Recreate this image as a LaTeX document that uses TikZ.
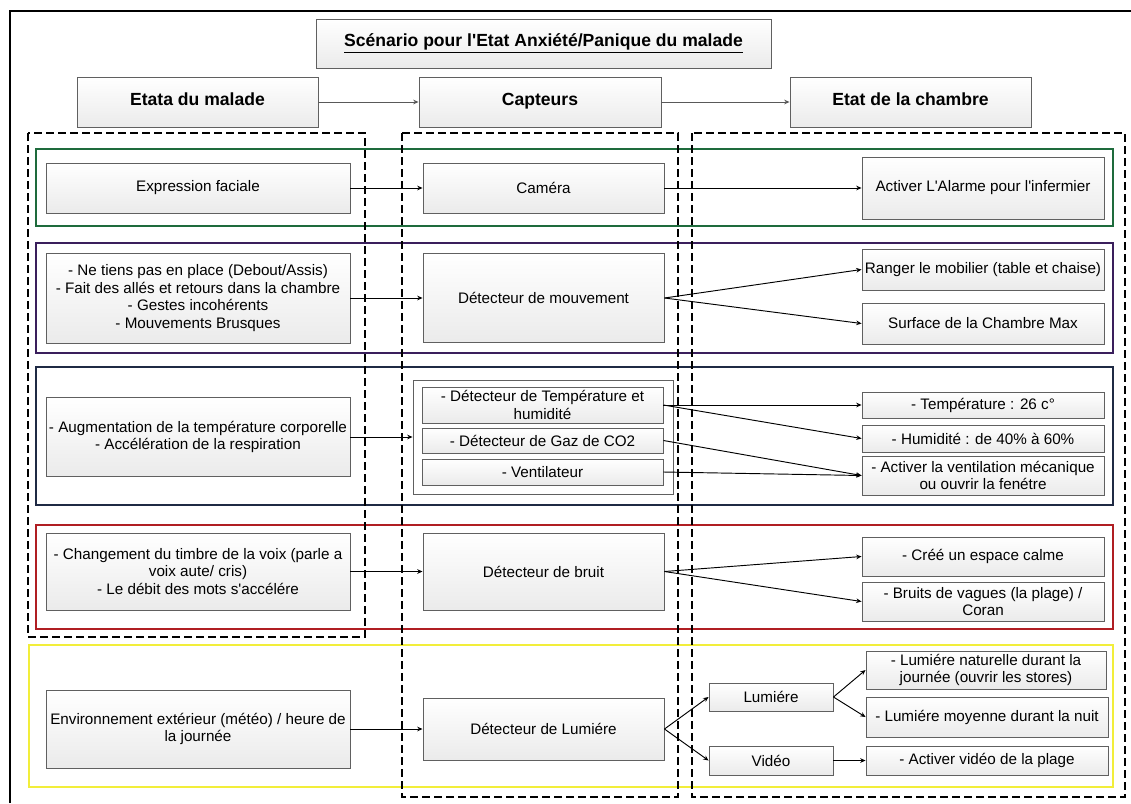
\documentclass[tikz,border=0pt]{standalone}
\usepackage{fontspec}
\setmainfont{Liberation Sans}[Ligatures = TeXOff]
\usetikzlibrary{arrows.meta, shadows}
\tikzset{> = { Stealth[length = 1.6mm, width = 1.4mm] }}

\definecolor{grpgreen}{HTML}{1E6B3C}
\definecolor{grppurple}{HTML}{3A1F5C}
\definecolor{grpnavy}{HTML}{1F2A44}
\definecolor{grpred}{HTML}{B01E23}
\definecolor{grpyellow}{HTML}{F2EE3A}

\tikzset{
	box/.style 2 args = {draw = gray!75!black, line width = 0.8pt, top color = white, bottom color = gray!16,
		drop shadow = {shadow xshift = 0.7pt, shadow yshift = -0.7pt, opacity = 0.3},
		minimum width = #1*0.03cm, minimum height = #2*0.03cm, inner sep = 1pt, align = center,
		font = \fontsize{13}{15}\selectfont},
	headbox/.style 2 args = {box = {#1}{#2}, font = \fontsize{15}{18}\selectfont\bfseries,
		text height = 1.55ex, text depth = 0.45ex},
	grpbox/.style = {line width = 1.6pt},
	dashcol/.style = {line width = 1.4pt, dash pattern = on 2.4mm off 1.2mm},
	link/.style = {->, line width = 0.8pt}
}

\begin{document}
\begin{tikzpicture}[x = 0.03cm, y = -0.03cm]
	\useasboundingbox (0, 0) rectangle (1131, 803);
	\draw [line width = 1.5pt] (10, 803) -- (10, 11) -- (1131, 11);

	% colour bands, one per symptom
	\draw [grpbox, grpgreen] (36, 149) rectangle (1113, 226);
	\draw [grpbox, grppurple] (36, 243) rectangle (1113, 353);
	\draw [grpbox, grpnavy] (36, 367) rectangle (1113, 505);
	\draw [grpbox, grpred] (36, 525) rectangle (1113, 629);
	\draw [grpbox, grpyellow] (29, 645) rectangle (1113, 787);

	\draw [dashcol] (28, 133) rectangle (365, 637);
	\draw [dashcol] (402, 133) rectangle (678, 797);
	\draw [dashcol] (692, 133) rectangle (1125, 797);

	\node [headbox = {455}{49}] (titre) at (543.5, 43.5) {\underline{Scénario pour l'Etat Anxiété/Panique du malade}};
	\node [headbox = {241}{50}] (malade) at (197.5, 102) {Etata du malade};
	\node [headbox = {242}{50}] (capteurs) at (540, 102) {Capteurs};
	\node [headbox = {241}{50}] (chambre) at (910.5, 102) {Etat de la chambre};

	\node [box = {304}{50}] (visage) at (198, 188) {Expression faciale};
	\node [box = {241}{50}] (camera) at (543.5, 188) {Caméra};
	\node [box = {242}{62}] (alarme) at (983, 188) {Activer L'Alarme pour l'infermier};

	\node [box = {304}{90}] (agit) at (198, 298) {- Ne tiens pas en place (Debout/Assis)\\- Fait des allés et retours dans la chambre\\- Gestes incohérents\\- Mouvements Brusques};
	\node [box = {241}{89}] (mouv) at (543.5, 298) {Détecteur de mouvement};
	\node [box = {242}{41}] (ranger) at (983, 269.5) {Ranger le mobilier (table et chaise)};
	\node [box = {242}{41}] (surface) at (983, 323.5) {Surface de la Chambre Max};

	\node [box = {304}{79}] (resp) at (198, 437) {- Augmentation de la température corporelle\\- Accélération de la respiration};
	\node [box = {260}{114}, bottom color = white] (sondes) at (543, 437) {};
	\node [box = {241}{36}] (temp) at (542.5, 405) {- Détecteur de Température et\\humidité};
	\node [box = {241}{25}] (gaz) at (542.5, 440.5) {- Détecteur de Gaz de CO2};
	\node [box = {241}{26}] (venti) at (542.5, 472) {- Ventilateur};
	\node [box = {242}{26}] (tempc) at (983, 405) {- Température : 26 c°};
	\node [box = {242}{27}] (humid) at (983, 438.5) {- Humidité : de 40\% à 60\%};
	\node [box = {242}{39}] (ventil) at (983, 475.5) {- Activer la ventilation mécanique\\ou ouvrir la fenétre};

	\node [box = {304}{77}] (voix) at (198, 571.5) {- Changement du timbre de la voix (parle a\\voix aute/ cris)\\- Le débit des mots s'accélére};
	\node [box = {241}{77}] (bruit) at (543.5, 571.5) {Détecteur de bruit};
	\node [box = {242}{39}] (calme) at (983, 556.5) {- Créé un espace calme};
	\node [box = {242}{39}] (vagues) at (983, 601.5) {- Bruits de vagues (la plage) /\\Coran};

	\node [box = {304}{78}] (env) at (198, 729) {Environnement extérieur (météo) / heure de\\la journée};
	\node [box = {241}{62}] (lumdet) at (543.5, 729) {Détecteur de Lumiére};
	\node [box = {124}{28}] (lum) at (771, 697) {Lumiére};
	\node [box = {124}{29}] (vid) at (771, 760.5) {Vidéo};
	\node [box = {240}{38}] (natur) at (986, 670) {- Lumiére naturelle durant la\\journée (ouvrir les stores)};
	\node [box = {242}{40}] (moyen) at (987, 717) {- Lumiére moyenne durant la nuit};
	\node [box = {242}{29}] (actvid) at (987, 760.5) {- Activer vidéo de la plage};

	\draw [link, gray!70!black] (malade) -- (capteurs);
	\draw [link, gray!70!black] (capteurs) -- (chambre);

	\draw [link] (visage) -- (camera);
	\draw [link] (camera) -- (alarme);

	\draw [link] (agit) -- (mouv);
	\draw [link] (mouv.east) -- (ranger.west);
	\draw [link] (mouv.east) -- (surface.west);

	\draw [link] (resp) -- (sondes);
	\draw [link] (temp.east) -- (tempc.west);
	\draw [link] (temp.east) -- (humid.west);
	\draw [link] (gaz.east) -- (ventil.west);
	\draw [link] (venti.east) -- (ventil.west);

	\draw [link] (voix) -- (bruit);
	\draw [link] (bruit.east) -- (calme.west);
	\draw [link] (bruit.east) -- (vagues.west);

	\draw [link] (env) -- (lumdet);
	\draw [link] (lumdet.east) -- (lum.west);
	\draw [link] (lumdet.east) -- (vid.west);
	\draw [link] (lum.east) -- (natur.west);
	\draw [link] (lum.east) -- (moyen.west);
	\draw [link] (vid) -- (actvid);
\end{tikzpicture}
\end{document}
